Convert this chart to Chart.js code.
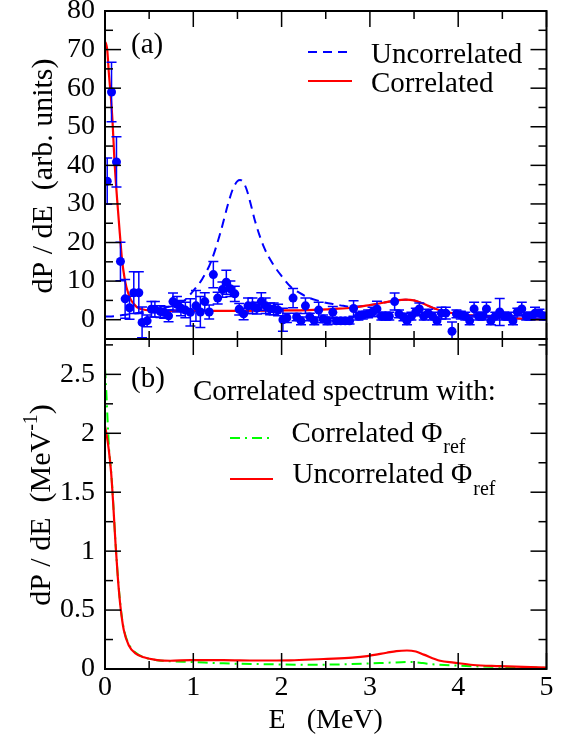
<!DOCTYPE html>
<html><head><meta charset="utf-8">
<script src="https://cdn.jsdelivr.net/npm/chart.js@4.4.1/dist/chart.umd.min.js"></script>
<style>
html,body{margin:0;padding:0;background:#fff;}
#wrap{position:relative;width:570px;height:738px;background:#fff;}
canvas{position:absolute;left:0;top:0;}
</style></head><body>
<div id="wrap"><canvas id="cTop" width="570" height="738"></canvas><canvas id="cBot" width="570" height="738"></canvas></div>
<script>
const FONT = '"Liberation Serif","Times New Roman",serif';

// ---- panel (a): experimental points ----
const expE = [0.025,0.074,0.13,0.175,0.228,0.278,0.326,0.383,0.42,0.477,
  0.526,0.565,0.628,0.67,0.72,0.77,0.815,0.86,0.91,0.967,
  1.03,1.08,1.13,1.18,1.227,1.276,1.33,1.374,1.42,1.47,
  1.52,1.57,1.62,1.67,1.72,1.77,1.82,1.87,1.91,1.96,
  2.015,2.06,2.13,2.17,2.22,2.27,2.32,2.37,2.42,2.47,
  2.52,2.58,2.62,2.67,2.72,2.77,2.815,2.87,2.92,2.98,
  3.03,3.08,3.13,3.18,3.22,3.28,3.33,3.38,3.42,3.47,
  3.52,3.56,3.61,3.66,3.71,3.76,3.81,3.86,3.93,3.98,
  4.03,4.08,4.13,4.18,4.23,4.28,4.32,4.37,4.42,4.47,
  4.52,4.57,4.62,4.67,4.72,4.77,4.82,4.87,4.92,4.97];
const expV = [35.9,59.0,40.9,15.1,5.4,3.1,7.0,7.0,-0.7,-0.3,
  2.7,2.7,2.1,1.9,1.0,4.7,4.0,3.0,2.5,1.9,
  3.6,2.0,4.7,2.0,11.7,5.6,7.8,9.7,8.0,6.7,
  2.7,1.5,3.6,3.6,3.0,4.7,3.6,2.8,2.8,2.5,
  0.0,0.5,5.6,0.7,-0.3,3.6,0.7,-0.3,2.5,0.2,
  -0.3,1.9,-0.3,-0.3,-0.3,-0.3,2.9,0.9,1.2,1.5,
  2.0,2.8,0.9,0.9,0.9,4.7,1.5,0.7,-0.3,0.9,
  2.0,2.8,0.9,1.7,0.9,-0.3,1.7,1.7,-3.0,1.5,
  1.2,0.9,-0.3,2.8,0.9,0.9,2.8,-0.3,0.9,2.0,
  0.9,0.9,-0.3,2.0,2.8,0.9,0.9,1.7,1.7,0.9];
const expErr = [6,7.7,6.5,5,5,3,5.4,5.4,4,1.5,
  2,2,1.5,1.5,1.5,2.2,2,2,2,3.5,
  4,4,2.3,1.8,3.4,1.5,2,3.1,2,2,
  1.5,1.5,2,2,1.5,2.3,2,1.5,1.5,1.5,
  3,1.2,2.5,1,1,2,1,1,2,1,
  1,1.5,0.8,0.8,0.8,0.8,2,1,1,1,
  1.2,2,1,1,1,2.2,1,1,1,1,
  1,1.5,1,1,1,1,1.5,1.5,2.4,1,
  1,1,1,1.7,1,1,1.7,1,1,3.5,
  1,1,1,1,1.7,1,1,1.5,1,1];

// ---- panel (a): curves ----
const corrE = [0,0.01,0.025,0.045,0.065,0.085,0.107,0.138,0.168,0.194,0.22,0.243,0.288,0.33,0.364,0.42,0.5,0.7,1.0,1.5,2.0,2.3,2.6,2.8,3.0,3.2,3.3,3.4,3.5,3.6,3.71,3.86,4.0,4.2,4.5,4.8,5.0];
const corrV = [72,71.6,70,63.5,58,51.5,41.3,31,22.3,15.3,11,8.4,5.4,4.0,3.2,2.7,2.4,2.3,2.3,2.3,2.4,2.5,2.8,3.1,3.8,4.6,5.0,5.2,5.0,4.2,3.1,2.0,1.5,1.0,0.5,0.2,0.1];
const uncE = [0,0.1,0.2,0.3,0.4,0.5,0.6,0.7,0.8,0.9,1.0,1.1,1.2,1.3,1.4,1.45,1.5,1.53,1.56,1.6,1.65,1.7,1.8,1.9,2.0,2.1,2.2,2.3,2.4,2.5,2.6,2.7,2.8,3.0,3.2,3.3,3.4,3.5,3.6,3.71,3.86,4.0,4.2,4.5,4.8,5.0];
const uncV = [0.8,0.9,1.2,1.5,1.9,2.3,2.7,3.2,3.8,5.0,7.5,10.5,15,22,30.5,34,35.9,36.2,35.8,34,30,25.5,18.8,14.5,11.3,8.6,7.0,5.8,5.0,4.4,4.0,3.6,3.3,3.8,4.6,5.0,5.2,5.0,4.2,3.1,2.0,1.5,1.0,0.5,0.2,0.1];

// ---- panel (b): curves ----
const specUncE = [0,0.02,0.043,0.07,0.093,0.119,0.145,0.175,0.213,0.27,0.345,0.44,0.59,0.74,0.97,1.34,1.72,2.1,2.475,2.59,2.8,2.97,3.19,3.3,3.42,3.52,3.61,3.795,3.95,4.17,4.47,5];
const specUncV = [2.06,1.98,1.86,1.66,1.40,1.065,0.78,0.53,0.33,0.20,0.133,0.099,0.076,0.07,0.076,0.076,0.072,0.074,0.085,0.088,0.097,0.11,0.138,0.152,0.157,0.148,0.122,0.07,0.054,0.034,0.025,0.012];
const specCorrE = [0,0.008,0.018,0.03,0.045,0.07,0.093,0.119,0.145,0.175,0.213,0.27,0.345,0.44,0.59,0.74,0.97,1.34,1.72,2.3,2.6,2.97,3.2,3.45,3.6,3.71,3.9,4.09,4.47,5];
const specCorrV = [2.55,2.45,2.3,2.1,1.88,1.67,1.41,1.07,0.79,0.54,0.34,0.21,0.14,0.10,0.075,0.066,0.06,0.048,0.042,0.036,0.038,0.046,0.053,0.06,0.05,0.04,0.032,0.025,0.018,0.01];

// ---- tick labels ----
const xTicks = [0,1,2,3,4,5];
const topYTicks = [0,10,20,30,40,50,60,70,80];
const botYTicks = [0,0.5,1,1.5,2,2.5];

const pts = (xs, ys) => xs.map((x,i)=>({x:x, y:ys[i]}));

function seg(ctx,x1,y1,x2,y2){ctx.beginPath();ctx.moveTo(x1,y1);ctx.lineTo(x2,y2);ctx.stroke();}

function frameTicks(yMinor, yMajor){
  return {id:'frameTicks', afterDraw(chart){
    const ctx=chart.ctx, a=chart.chartArea, xs=chart.scales.x, ys=chart.scales.y;
    ctx.save(); ctx.strokeStyle='#000'; ctx.lineWidth=1.5; ctx.setLineDash([]);
    for(let v=0; v<=5+1e-9; v+=0.5){
      const p=xs.getPixelForValue(v); const L=Math.abs(v-Math.round(v))<1e-6?16:8;
      seg(ctx,p,a.bottom,p,a.bottom-L); seg(ctx,p,a.top,p,a.top+L);
    }
    const n0=Math.ceil(ys.min/yMinor-1e-9), n1=Math.floor(ys.max/yMinor+1e-9);
    for(let k=n0;k<=n1;k++){
      const v=k*yMinor; const p=ys.getPixelForValue(v);
      const r=v/yMajor; const L=Math.abs(r-Math.round(r))<1e-6?16:8;
      seg(ctx,a.left,p,a.left+L,p); seg(ctx,a.right,p,a.right-L,p);
    }
    ctx.lineWidth=2; ctx.strokeRect(a.left,a.top,a.right-a.left,a.bottom-a.top);
    ctx.restore();
  }};
}

const errorBars = {id:'errorBars', beforeDatasetDraw(chart,args){
  if(args.index!==0) return;
  const ctx=chart.ctx, a=chart.chartArea, xs=chart.scales.x, ys=chart.scales.y;
  ctx.save(); ctx.beginPath(); ctx.rect(a.left,a.top,a.right-a.left,a.bottom-a.top); ctx.clip();
  ctx.strokeStyle='#0000ff'; ctx.lineWidth=1.5;
  expE.forEach((e,i)=>{
    const px=xs.getPixelForValue(e), y1=ys.getPixelForValue(expV[i]-expErr[i]), y2=ys.getPixelForValue(expV[i]+expErr[i]);
    seg(ctx,px,y1,px,y2); seg(ctx,px-5,y1,px+5,y1); seg(ctx,px-5,y2,px+5,y2);
  });
  ctx.restore();
}};

const topText = {id:'topText', afterDraw(chart){
  const ctx=chart.ctx; const ds=chart.data.datasets;
  ctx.save(); ctx.fillStyle='#000'; ctx.textBaseline='alphabetic'; ctx.textAlign='left';
  ctx.font='29px '+FONT;
  ctx.fillText('(a)',131,53);
  ctx.fillText(ds[2].label,371,62.5);
  ctx.fillText(ds[1].label,371,91.5);
  ctx.lineWidth=2; ctx.strokeStyle='#0000ff'; ctx.setLineDash([9,6]); seg(ctx,308,52,352,52);
  ctx.strokeStyle='#ff0000'; ctx.setLineDash([]); ctx.lineWidth=2.2; seg(ctx,308,81,352,81);
  ctx.translate(52,176); ctx.rotate(-Math.PI/2); ctx.textAlign='center'; ctx.font='30px '+FONT;
  ctx.fillText('dP / dE  (arb. units)',0,0);
  ctx.restore();
}};

const botText = {id:'botText', afterDraw(chart){
  const ctx=chart.ctx;
  ctx.save(); ctx.fillStyle='#000'; ctx.textBaseline='alphabetic'; ctx.textAlign='left';
  ctx.font='29px '+FONT;
  ctx.fillText('(b)',131,386.5);
  ctx.fillText('Correlated spectrum with:',193,400);
  const leg=(txt,x,y)=>{ctx.font='29px '+FONT; ctx.fillText(txt,x,y); const w=ctx.measureText(txt).width; ctx.font='20px '+FONT; ctx.fillText('ref',x+w+1,y+11.5);};
  leg('Correlated \u03A6',291.5,441.7);
  leg('Uncorrelated \u03A6',292.5,483.3);
  ctx.lineWidth=2; ctx.strokeStyle='#00ff00'; ctx.setLineDash([10,5,2,5]); seg(ctx,230,438,272,438);
  ctx.setLineDash([]); ctx.strokeStyle='#ff0000'; ctx.lineWidth=2.2; seg(ctx,230,479,273,479);
  // x title
  ctx.font='28px '+FONT; ctx.textAlign='center';
  ctx.fillText('E   (MeV)',(chart.chartArea.left+chart.chartArea.right)/2,728);
  // y title with superscript
  ctx.translate(50,505); ctx.rotate(-Math.PI/2); ctx.textAlign='left';
  const t1='dP / dE  (MeV', t2='-1', t3=')';
  ctx.font='30px '+FONT; const w1=ctx.measureText(t1).width, w3=ctx.measureText(t3).width;
  ctx.font='20px '+FONT; const w2=ctx.measureText(t2).width;
  let x=-(w1+w2+w3)/2;
  ctx.font='30px '+FONT; ctx.fillText(t1,x,0); x+=w1;
  ctx.font='20px '+FONT; ctx.fillText(t2,x,-13); x+=w2;
  ctx.font='30px '+FONT; ctx.fillText(t3,x,0);
  ctx.restore();
}};

function yScale(min,max,ticks){
  return {type:'linear',min:min,max:max,
    afterBuildTicks(s){s.ticks=ticks.map(v=>({value:v}));},
    ticks:{font:{family:FONT,size:28},color:'#000',padding:10,autoSkip:false,callback:v=>String(v)},
    grid:{display:false,drawTicks:false},border:{display:false},
    afterFit(s){s.width=105;s.paddingTop=0;s.paddingBottom=0;}};
}

const common = {animation:false,responsive:false,devicePixelRatio:1,
  plugins:{legend:{display:false},tooltip:{enabled:false}}};

new Chart(document.getElementById('cTop'),{
  type:'scatter',
  data:{datasets:[
    {label:'Data',data:pts(expE,expV),backgroundColor:'#0000ff',borderColor:'#0000ff',pointRadius:4.5,pointBorderWidth:0,showLine:false,order:0},
    {label:'Correlated',type:'line',data:pts(corrE,corrV),borderColor:'#ff0000',borderWidth:2.2,pointRadius:0,fill:false,cubicInterpolationMode:'monotone',order:1},
    {label:'Uncorrelated',type:'line',data:pts(uncE,uncV),borderColor:'#0000ff',borderWidth:2,borderDash:[9,6],pointRadius:0,fill:false,cubicInterpolationMode:'monotone',order:2}
  ]},
  options:Object.assign({},common,{
    layout:{padding:{left:0,top:11,right:23.5,bottom:0}},
    scales:{
      x:{type:'linear',min:0,max:5,ticks:{display:false},grid:{display:false,drawTicks:false},border:{display:false},
         afterFit(s){s.height=399;s.paddingLeft=0;s.paddingRight=0;}},
      y:yScale(-5,80,topYTicks)
    }
  }),
  plugins:[errorBars,frameTicks(5,10),topText]
});

new Chart(document.getElementById('cBot'),{
  type:'line',
  data:{datasets:[
    {label:'Uncorrelated \u03A6ref',data:pts(specUncE,specUncV),borderColor:'#ff0000',borderWidth:2.2,pointRadius:0,fill:false,cubicInterpolationMode:'monotone',order:0},
    {label:'Correlated \u03A6ref',data:pts(specCorrE,specCorrV),borderColor:'#00ff00',borderWidth:2,borderDash:[10,5,2,5],pointRadius:0,fill:false,cubicInterpolationMode:'monotone',order:1}
  ]},
  options:Object.assign({},common,{
    layout:{padding:{left:0,top:339,right:23.5,bottom:0}},
    scales:{
      x:{type:'linear',min:0,max:5,
         afterBuildTicks(s){s.ticks=xTicks.map(v=>({value:v}));},
         ticks:{font:{family:FONT,size:28},color:'#000',padding:2,autoSkip:false,maxRotation:0,callback:v=>String(v)},
         grid:{display:false,drawTicks:false},border:{display:false},
         afterFit(s){s.height=69;s.paddingLeft=0;s.paddingRight=0;}},
      y:yScale(0,2.8,botYTicks)
    }
  }),
  plugins:[frameTicks(0.25,0.5),botText]
});
</script>
</body></html>
